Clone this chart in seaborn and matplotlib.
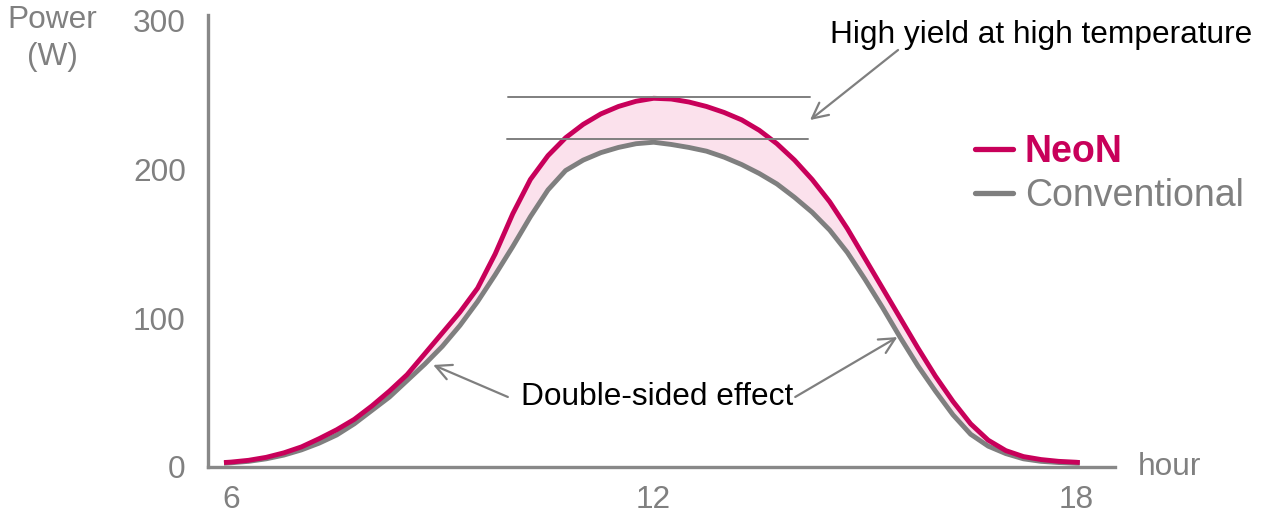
import matplotlib
matplotlib.use("Agg")
import matplotlib.pyplot as plt
from matplotlib.lines import Line2D
import seaborn as sns
import pandas as pd

hours = [5.9, 6.0, 6.25, 6.5, 6.75, 7.0, 7.25, 7.5, 7.75, 8.0, 8.25, 8.5, 8.75,
         9.0, 9.25, 9.5, 9.75, 10.0, 10.25, 10.5, 10.75, 11.0, 11.25, 11.5, 11.75,
         12.0, 12.25, 12.5, 12.75, 13.0, 13.25, 13.5, 13.75, 14.0, 14.25, 14.5, 14.75,
         15.0, 15.25, 15.5, 15.75, 16.0, 16.25, 16.5, 16.75, 17.0, 17.25, 17.5, 17.75,
         18.0, 18.05]
neon = [3, 3.3, 4.5, 6.5, 9.5, 13.5, 19, 25, 32, 41, 51, 62, 76,
        90, 104, 120, 143, 170, 193, 209, 221, 230, 237, 242, 245.5,
        247.5, 247, 245, 242, 238, 233, 226, 217, 206, 193, 178, 160,
        140, 120, 100, 80, 61, 44, 29, 18, 11, 7, 5, 3.8,
        3.2, 3]
conventional = [2.5, 2.8, 3.8, 5.5, 8, 11.5, 16, 21.5, 29, 38, 47, 58, 69,
                81, 95, 111, 129, 148, 168, 186, 199, 206, 211, 214.5, 217,
                218, 216.5, 214.5, 212, 208, 203, 197, 190, 181, 171, 159, 144,
                126, 107, 87, 68, 51, 35, 22, 14, 9, 5.5, 3.8, 3,
                2.5, 2.5]

x_ticks = [6, 12, 18]
y_ticks = [0, 100, 200, 300]
series_names = ["NeoN", "Conventional"]

NEON_C = "#c8005a"
CONV_C = "#7f7f7f"
FILL_C = "#fbe1ec"
AX_C = "#888888"
TXT_C = "#808080"

sns.set_style("white")
plt.rcParams["font.family"] = ["Liberation Sans", "DejaVu Sans"]

df = pd.DataFrame({
    "hour": hours * 2,
    "power": neon + conventional,
    "series": [series_names[0]] * len(hours) + [series_names[1]] * len(hours),
})

fig = plt.figure(figsize=(12.63, 5.13), dpi=100)
ax = fig.add_axes([208 / 1263, 1 - 467 / 513, (1115 - 208) / 1263, (467 - 15) / 513])

ax.fill_between(hours, conventional, neon, color=FILL_C, lw=0, zorder=1)
sns.lineplot(data=df, x="hour", y="power", hue="series",
             palette={series_names[0]: NEON_C, series_names[1]: CONV_C},
             hue_order=[series_names[1], series_names[0]],
             linewidth=3.5, ax=ax, legend=False, zorder=3)
for ln in ax.get_lines():
    ln.set_solid_capstyle("butt")
    ln.set_solid_joinstyle("round")

ax.set_xlim(5.673, 18.55)
ax.set_ylim(0, 303.4)
ax.set_xticks(x_ticks)
ax.set_yticks(y_ticks)
ax.set_xticklabels([str(v) for v in x_ticks])
ax.set_yticklabels([str(v) for v in y_ticks])
ax.tick_params(axis="both", length=0, labelsize=22.8, colors=TXT_C)
ax.tick_params(axis="x", pad=13)
ax.tick_params(axis="y", pad=16)
ax.set_xlabel("")
ax.set_ylabel("")
for s in ["top", "right"]:
    ax.spines[s].set_visible(False)
for s in ["left", "bottom"]:
    ax.spines[s].set_color(AX_C)
    ax.spines[s].set_linewidth(2.4)

# reference lines
ax.plot([9.93, 14.22], [248.3, 248.3], color=CONV_C, lw=1.4, zorder=4)
ax.plot([9.92, 14.19], [220, 220], color=CONV_C, lw=1.4, zorder=4)

arrow = dict(arrowstyle="->", color=CONV_C, lw=1.6, mutation_scale=28,
             shrinkA=0, shrinkB=0)
ax.annotate("", xy=(14.22, 232.9), xytext=(15.47, 279.9), arrowprops=arrow, zorder=5)
ax.text(17.5, 290, "High yield at high temperature", fontsize=22.8,
        color="black", ha="center", va="center")

ax.annotate("", xy=(8.87, 68.5), xytext=(9.93, 47), arrowprops=arrow, zorder=5)
ax.annotate("", xy=(15.46, 87.2), xytext=(14.01, 47), arrowprops=arrow, zorder=5)
ax.text(12.05, 47, "Double-sided effect", fontsize=22.8,
        color="black", ha="center", va="center")

# axis titles
fig.text(52 / 1263, 1 - 20 / 513, "Power", fontsize=22.8, color=TXT_C,
         ha="center", va="center")
fig.text(52 / 1263, 1 - 57 / 513, "(W)", fontsize=22.8, color=TXT_C,
         ha="center", va="center")
fig.text(1138 / 1263, 1 - 467 / 513, "hour", fontsize=22.8, color=TXT_C,
         ha="left", va="center")

# legend
handles = [Line2D([0], [0], color=NEON_C, lw=3.8),
           Line2D([0], [0], color=CONV_C, lw=3.8)]
leg = fig.legend(handles, series_names, loc="upper left",
                 bbox_to_anchor=(975 / 1263, 1 - 134 / 513),
                 frameon=False, fontsize=27, handlelength=1.0,
                 handletextpad=0.33, labelspacing=0.22, borderpad=0,
                 borderaxespad=0)
t0, t1 = leg.get_texts()
t0.set_color(NEON_C)
t0.set_fontweight("bold")
t1.set_color(TXT_C)

fig.savefig("out.png", dpi=100)
